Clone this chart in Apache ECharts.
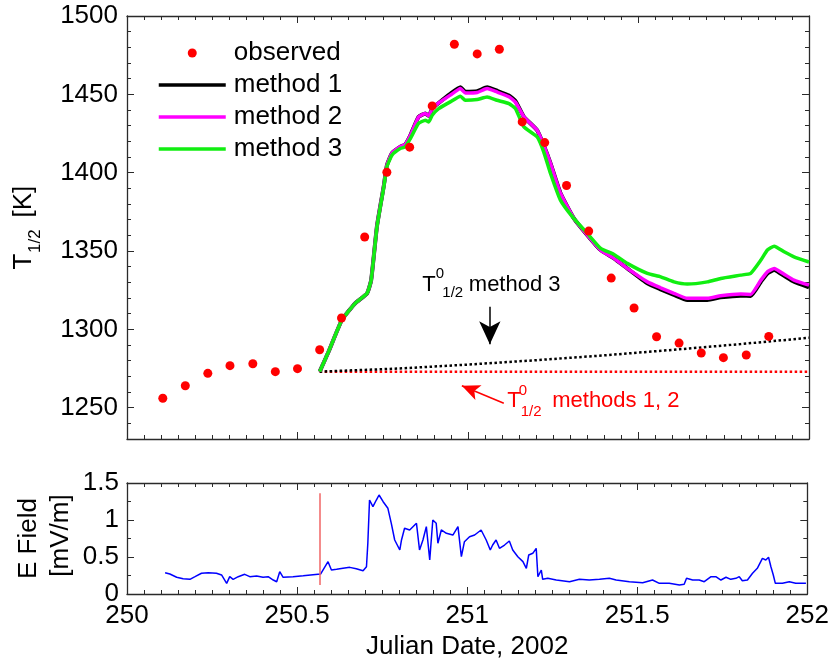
<!DOCTYPE html>
<html><head><meta charset="utf-8">
<script src="https://cdn.jsdelivr.net/npm/echarts@6/dist/echarts.min.js"></script>
<style>html,body{margin:0;padding:0;background:#fff}#c{width:832px;height:666px}</style>
</head><body><div id="c"></div>
<script>
// observed T1/2
const obsX = [250.105,250.171,250.237,250.302,250.369,250.435,250.500,250.565,250.629,250.697,250.762,250.829,250.895,250.960,251.027,251.092,251.159,251.225,251.289,251.354,251.420,251.487,251.553,251.619,251.684,251.749,251.816,251.882];
const obsY = [1256,1264,1271.9,1276.8,1278,1273,1274.9,1287,1307.2,1358.9,1400.3,1416.3,1442.6,1482,1475.8,1478.8,1432.4,1419.2,1391.8,1362.7,1332.7,1313.6,1295.3,1291.2,1284.9,1281.9,1283.6,1295.5];
// model curves
const modelX = [250.565,250.591,250.630,250.669,250.704,250.716,250.733,250.753,250.762,250.777,250.801,250.816,250.831,250.855,250.875,250.885,250.895,250.914,250.948,250.978,250.992,251.027,251.056,251.085,251.120,251.139,251.164,251.203,251.222,251.242,251.271,251.310,251.350,251.389,251.428,251.467,251.526,251.565,251.604,251.643,251.702,251.741,251.800,251.829,251.859,251.878,251.898,251.927,251.956,252.000];
const method1Y = [1273,1285.7,1305.9,1316.6,1323,1331.4,1365.8,1391.5,1404.5,1412.5,1416.5,1418,1423.8,1435.6,1437.7,1436.3,1440.9,1444.5,1450.3,1454.5,1451.7,1452,1454.5,1452.3,1449.3,1445.8,1435.6,1427,1417.5,1405.9,1387,1371,1360.1,1350.6,1345.3,1338.9,1329.3,1325.5,1322,1318.8,1318.8,1320.4,1321.5,1321.3,1330.4,1335.7,1337.9,1334.2,1330.4,1326.8];
const method2Y = [1273,1285.7,1305.9,1316.6,1323,1331.4,1365.8,1391.5,1404.5,1412.5,1416.5,1418,1423.8,1435.6,1437.7,1436.3,1440.9,1444.5,1449.5,1453.7,1450.9,1451.2,1453.7,1451.5,1448.5,1445,1435.6,1427,1417.5,1405.9,1387,1371,1360.1,1350.6,1345.3,1338.9,1330.3,1326.5,1323,1319.8,1319.8,1321.4,1322.5,1322.3,1331.4,1336.7,1338.9,1335.2,1331.4,1328.2];
const method3Y = [1273,1285.7,1305.9,1316.6,1323,1331.4,1365.4,1390.9,1403.7,1411.2,1415.4,1416.5,1421.8,1431.4,1433.5,1432.4,1436.7,1440.9,1445.2,1448.8,1446.2,1446.7,1448.3,1446.2,1444.1,1440.9,1429.2,1422.8,1413.3,1399.5,1382.5,1370.8,1361.2,1351.7,1347.8,1342.1,1335.7,1333.5,1330.3,1328.9,1330.3,1332.5,1334.6,1335.7,1344.2,1350.6,1353.1,1349.5,1346.3,1343];
// T0 baselines
const base12X = [250.565,252.0];
const base12Y = [1273,1273];
const base3X = [250.565,250.8,251.0,251.2,251.4,251.6,251.8,252.0];
const base3Y = [1273,1275,1277.5,1280.3,1283.4,1286.9,1290.6,1294.6];
// E field
const efX = [250.112,250.126,250.146,250.165,250.185,250.200,250.219,250.239,250.263,250.278,250.293,250.302,250.312,250.327,250.346,250.361,250.381,250.400,250.415,250.430,250.440,250.449,250.459,250.488,250.518,250.547,250.569,250.591,250.601,250.616,250.635,250.655,250.674,250.694,250.704,250.708,250.713,250.723,250.733,250.741,250.753,250.767,250.777,250.787,250.802,250.807,250.816,250.831,250.851,250.860,250.870,250.880,250.890,250.899,250.909,250.914,250.924,250.939,250.958,250.973,250.983,250.992,251.007,251.022,251.041,251.056,251.068,251.075,251.085,251.095,251.110,251.124,251.134,251.149,251.164,251.174,251.181,251.193,251.203,251.208,251.218,251.222,251.237,251.262,251.301,251.330,251.359,251.389,251.418,251.438,251.477,251.516,251.545,251.565,251.594,251.624,251.638,251.645,251.663,251.682,251.697,251.717,251.731,251.746,251.761,251.775,251.790,251.800,251.809,251.824,251.839,251.853,251.868,251.878,251.886,251.893,251.900,251.906,251.927,251.947,251.966,251.996];
const efY = [0.288,0.27,0.226,0.207,0.198,0.234,0.28,0.288,0.28,0.257,0.144,0.234,0.198,0.234,0.266,0.234,0.243,0.226,0.234,0.189,0.166,0.301,0.226,0.234,0.247,0.261,0.27,0.437,0.324,0.334,0.347,0.36,0.342,0.315,0.369,0.685,1.27,1.18,1.27,1.338,1.247,1.158,0.955,0.73,0.595,0.73,0.888,0.865,0.955,0.595,0.73,0.91,0.46,1.0,0.955,0.685,0.865,0.82,0.797,0.91,0.504,0.707,0.774,0.797,0.865,0.73,0.595,0.662,0.73,0.617,0.662,0.716,0.595,0.504,0.437,0.347,0.527,0.55,0.617,0.234,0.324,0.198,0.212,0.189,0.166,0.198,0.189,0.198,0.212,0.189,0.166,0.153,0.189,0.144,0.144,0.122,0.131,0.212,0.189,0.189,0.166,0.234,0.234,0.189,0.226,0.198,0.212,0.234,0.18,0.189,0.28,0.347,0.482,0.459,0.496,0.369,0.257,0.144,0.144,0.166,0.144,0.144];
// marker line / arrows (data coords)
const eventX = 250.567;
const eventY = [0.12, 1.36];
const arrowM3 = [[251.064, 1314.4], [251.064, 1290.5]];
const arrowM12 = [[251.105, 1252.8], [250.982, 1264]];
const noteM3 = [250.866, 1328.6];
const noteM12 = [251.115, 1254.6];
// ticks
const topYLabels = [1250,1300,1350,1400,1450,1500];

const zip = (a, b) => a.map((v, i) => [v, b[i]]);
const AX = '#2a2a2a';
const FONT = 'Liberation Sans, Arial, sans-serif';
const plain = (v) => String(v);

function xAx(grid, pos, labels) {
  return {
    type: 'value', gridIndex: grid, position: pos, min: 250, max: 252, interval: 0.5,
    axisLine: {show: true, onZero: false, lineStyle: {color: AX, width: 1.3}},
    axisTick: {show: true, inside: true, length: 7, lineStyle: {color: AX, width: 1}},
    minorTick: {show: true, splitNumber: 10, length: 4, lineStyle: {color: AX, width: 1}},
    splitLine: {show: false},
    axisLabel: {show: labels, fontSize: 26, color: '#000', fontFamily: FONT, margin: 9, formatter: plain},
    name: labels ? 'Julian Date, 2002' : '', nameLocation: 'middle', nameGap: 40,
    nameTextStyle: {fontSize: 26, color: '#000', fontFamily: FONT}
  };
}
function yTopMinor(pos) {
  return {
    type: 'value', gridIndex: 0, position: pos, min: 1230, max: 1500, interval: 10,
    axisLine: {show: true, onZero: false, lineStyle: {color: AX, width: 1.3}},
    axisTick: {show: true, inside: true, length: 4, lineStyle: {color: AX, width: 1}},
    splitLine: {show: false}, axisLabel: {show: false}
  };
}
function yTopMajor(pos, labels) {
  return {
    type: 'value', gridIndex: 0, position: pos, min: 1230, max: 1500,
    axisLine: {show: false},
    axisTick: {show: true, inside: true, length: 7, customValues: topYLabels, lineStyle: {color: AX, width: 1}},
    splitLine: {show: false},
    axisLabel: {show: labels, customValues: topYLabels, fontSize: 26, color: '#000', fontFamily: FONT, margin: 9, formatter: plain}
  };
}
function yBot(pos, labels) {
  return {
    type: 'value', gridIndex: 1, position: pos, min: 0, max: 1.5, interval: 0.5,
    axisLine: {show: true, onZero: false, lineStyle: {color: AX, width: 1.3}},
    axisTick: {show: true, inside: true, length: 7, lineStyle: {color: AX, width: 1}},
    minorTick: {show: true, splitNumber: 2, length: 4, lineStyle: {color: AX, width: 1}},
    splitLine: {show: false},
    axisLabel: {show: labels, fontSize: 26, color: '#000', fontFamily: FONT, margin: 8, formatter: plain}
  };
}
const lineLegend = (name, color) => ({name: name, itemStyle: {opacity: 0}, lineStyle: {color: color, width: 3.5}});

const chart = echarts.init(document.getElementById('c'), null, {renderer: 'canvas'});
const option = {
  animation: false,
  backgroundColor: '#fff',
  textStyle: {fontFamily: FONT},
  grid: [
    {left: 127, right: 23, top: 16, height: 423},
    {left: 127, right: 23, top: 483, height: 111}
  ],
  legend: {
    data: ['observed', lineLegend('method 1', '#000'), lineLegend('method 2', '#ff00ff'), lineLegend('method 3', '#11ee11')],
    orient: 'vertical', left: 152, top: 35, itemWidth: 67, itemHeight: 9, itemGap: 6,
    textStyle: {fontSize: 26, color: '#000', fontFamily: FONT, lineHeight: 26, padding: [0, 0, 0, 3]},
    selectedMode: false
  },
  xAxis: [xAx(0, 'bottom', false), xAx(0, 'top', false), xAx(1, 'bottom', true), xAx(1, 'top', false)],
  yAxis: [yTopMinor('left'), yTopMajor('left', true), yTopMinor('right'), yTopMajor('right', false), yBot('left', true), yBot('right', false)],
  series: [
    {
      name: 'T0 methods 1, 2', type: 'line', xAxisIndex: 0, yAxisIndex: 1, data: zip(base12X, base12Y),
      symbol: 'none', lineStyle: {color: '#ff0000', width: 2.5, type: 'dotted'}, z: 2,
      markLine: {
        silent: true, symbol: ['none', 'arrow'], symbolSize: [12, 18], label: {show: false},
        lineStyle: {color: '#ff0000', width: 1.5, type: 'solid'},
        data: [[{coord: arrowM12[0]}, {coord: arrowM12[1]}]]
      }
    },
    {
      name: 'T0 method 3', type: 'line', xAxisIndex: 0, yAxisIndex: 1, data: zip(base3X, base3Y),
      symbol: 'none', lineStyle: {color: '#000', width: 2.5, type: 'dotted'}, z: 2,
      markLine: {
        silent: true, symbol: ['none', 'arrow'], symbolSize: [16, 23], label: {show: false},
        lineStyle: {color: '#000', width: 1.5, type: 'solid'},
        data: [[{coord: arrowM3[0]}, {coord: arrowM3[1]}]]
      }
    },
    {name: 'method 1', type: 'line', xAxisIndex: 0, yAxisIndex: 1, data: zip(modelX, method1Y), symbol: 'none', smooth: 0.15, lineStyle: {color: '#000', width: 4}, itemStyle: {color: '#000'}, z: 3},
    {name: 'method 2', type: 'line', xAxisIndex: 0, yAxisIndex: 1, data: zip(modelX, method2Y), symbol: 'none', smooth: 0.15, lineStyle: {color: '#ff00ff', width: 3.5}, itemStyle: {color: '#ff00ff'}, z: 4},
    {name: 'method 3', type: 'line', xAxisIndex: 0, yAxisIndex: 1, data: zip(modelX, method3Y), symbol: 'none', smooth: 0.15, lineStyle: {color: '#11ee11', width: 3.5}, itemStyle: {color: '#11ee11'}, z: 5},
    {name: 'observed', type: 'scatter', xAxisIndex: 0, yAxisIndex: 1, data: zip(obsX, obsY), symbol: 'circle', symbolSize: 9, itemStyle: {color: '#ff0000', opacity: 1}, z: 6},
    {
      name: 'E field', type: 'line', xAxisIndex: 2, yAxisIndex: 4, data: zip(efX, efY), symbol: 'none',
      lineStyle: {color: '#0000ff', width: 1.5}, z: 3,
      markLine: {
        silent: true, symbol: 'none', label: {show: false},
        lineStyle: {color: '#f06464', width: 1.5, type: 'solid'},
        data: [[{coord: [eventX, eventY[0]]}, {coord: [eventX, eventY[1]]}]]
      }
    }
  ]
};
chart.setOption(option);

const P = (pt) => chart.convertToPixel({xAxisIndex: 0, yAxisIndex: 1}, pt);
const a3 = P(noteM3), a12 = P(noteM12);
function txt(x, y, s, size, color, rot) {
  return {type: 'text', x: x, y: y, rotation: rot || 0, silent: true, z: 100,
    style: {text: s, fontSize: size, fontFamily: FONT, fill: color, align: 'left', verticalAlign: 'middle'}};
}
const gridTop = chart.getModel().getComponent('grid', 0).coordinateSystem.getRect();
const gridBot = chart.getModel().getComponent('grid', 1).coordinateSystem.getRect();
const midTop = gridTop.y + gridTop.height / 2;
const midBot = gridBot.y + gridBot.height / 2;
chart.setOption({
  graphic: [
    txt(a3[0], a3[1], 'T', 22, '#000'),
    txt(a3[0] + 13.5, a3[1] - 10.5, '0', 15, '#000'),
    txt(a3[0] + 20, a3[1] + 8.5, '1/2', 15, '#000'),
    txt(a3[0] + 46.5, a3[1], 'method 3', 22, '#000'),
    txt(a12[0], a12[1], 'T', 22, '#ff0000'),
    txt(a12[0] + 11.5, a12[1] - 9.5, '0', 15, '#ff0000'),
    txt(a12[0] + 13.5, a12[1] + 11, '1/2', 15, '#ff0000'),
    txt(a12[0] + 45, a12[1], 'methods 1, 2', 22, '#ff0000'),
    {
      type: 'group', x: 33, y: midTop + 42, rotation: Math.PI / 2, silent: true,
      children: [
        {type: 'text', x: 0, y: -9.5, style: {text: 'T', fontSize: 26, fontFamily: FONT, fill: '#000', align: 'left', verticalAlign: 'middle'}},
        {type: 'text', x: 16.5, y: 2, style: {text: '1/2', fontSize: 17, fontFamily: FONT, fill: '#000', align: 'left', verticalAlign: 'middle'}},
        {type: 'text', x: 52, y: -9.5, style: {text: '[K]', fontSize: 26, fontFamily: FONT, fill: '#000', align: 'left', verticalAlign: 'middle'}}
      ]
    },
    {type: 'text', x: 28.5, y: midBot, rotation: Math.PI / 2, silent: true,
      style: {text: 'E Field', fontSize: 26, fontFamily: FONT, fill: '#000', align: 'center', verticalAlign: 'middle'}},
    {type: 'text', x: 61, y: midBot - 3, rotation: Math.PI / 2, silent: true,
      style: {text: '[mV/m]', fontSize: 26, fontFamily: FONT, fill: '#000', align: 'center', verticalAlign: 'middle'}}
  ]
});
</script>
</body></html>
